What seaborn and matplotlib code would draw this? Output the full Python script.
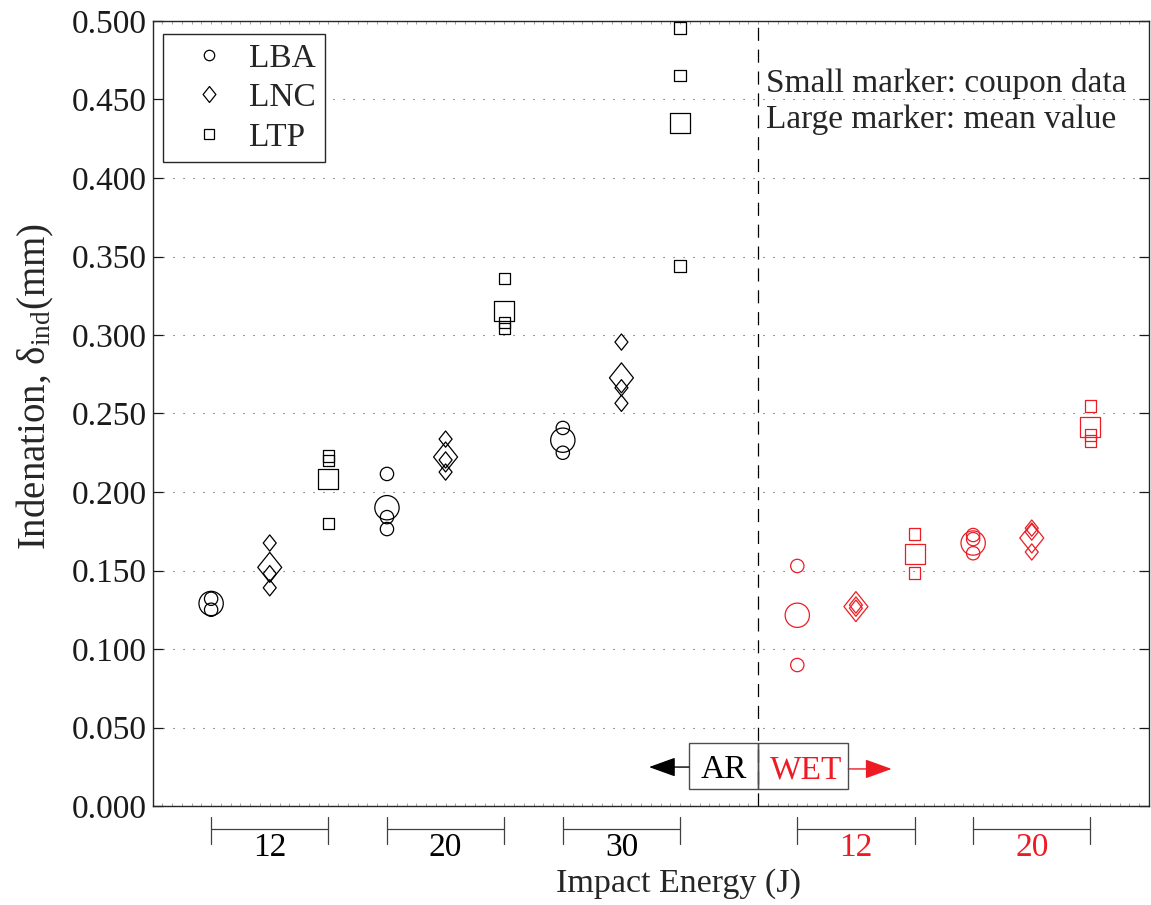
import numpy as np
import pandas as pd
import matplotlib
matplotlib.use("Agg")
import matplotlib.pyplot as plt
from matplotlib.path import Path
from matplotlib.lines import Line2D
from matplotlib.patches import Rectangle
from matplotlib.ticker import MultipleLocator
import seaborn as sns

# ---------------- data ----------------
materials = ["LBA", "LNC", "LTP"]
group_labels = ["12", "20", "30", "12", "20"]
group_conditions = ["AR", "AR", "AR", "WET", "WET"]
group_base = [1, 4, 7, 11, 14]          # x slot of first material in each group

# coupon data (small markers), one list per group
coupons_LBA = [[0.132, 0.125], [0.2115, 0.184, 0.1764], [0.2408, 0.225],
               [0.1529, 0.0898], [0.1726, 0.170, 0.161]]
coupons_LNC = [[0.1675, 0.148, 0.139], [0.2337, 0.2204, 0.2127], [0.2955, 0.2664, 0.2565],
               [0.128, 0.126], [0.177, 0.1745, 0.1618]]
coupons_LTP = [[0.223, 0.220, 0.180], [0.336, 0.308, 0.304], [0.4955, 0.4654, 0.344],
               [0.1732, 0.1484], [0.2548, 0.2363, 0.2325]]
# mean values (large markers)
mean_LBA = [0.129, 0.190, 0.233, 0.1215, 0.1675]
mean_LNC = [0.152, 0.2223, 0.2727, 0.127, 0.1707]
mean_LTP = [0.208, 0.315, 0.435, 0.1605, 0.2414]

yticks = [0.000, 0.050, 0.100, 0.150, 0.200, 0.250, 0.300, 0.350, 0.400, 0.450, 0.500]

# ---------------- build long table ----------------
coupons = {"LBA": coupons_LBA, "LNC": coupons_LNC, "LTP": coupons_LTP}
means = {"LBA": mean_LBA, "LNC": mean_LNC, "LTP": mean_LTP}
rows = []
for mi, m in enumerate(materials):
    for gi in range(len(group_base)):
        x = group_base[gi] + mi
        for v in coupons[m][gi]:
            rows.append(dict(x=x, y=v, material=m, cond=group_conditions[gi], kind="coupon"))
        rows.append(dict(x=x, y=means[m][gi], material=m, cond=group_conditions[gi], kind="mean"))
df = pd.DataFrame(rows)

# ---------------- style ----------------
sns.set_theme(style="white")
plt.rcParams["font.family"] = ["Liberation Serif", "DejaVu Serif"]
plt.rcParams["mathtext.fontset"] = "custom"
plt.rcParams["mathtext.rm"] = "Liberation Serif"
plt.rcParams["mathtext.it"] = "Liberation Serif:italic"
FS = 24
RED = "#ED1C24"
cond_color = {"AR": "black", "WET": RED}

def diamond():
    v = [(0, 1), (0.8, 0), (0, -1), (-0.8, 0), (0, 1)]
    return Path(v, closed=True)

marker_of = {"LBA": "o", "LNC": diamond(), "LTP": "s"}
ms_small = {"LBA": 9.6, "LNC": 11.7, "LTP": 8.2}
ms_large = {"LBA": 17.5, "LNC": 21.6, "LTP": 14.4}

fig = plt.figure(figsize=(11.51, 9.05), dpi=100)
ax = fig.add_axes([152.5 / 1151, 99 / 905, 996.5 / 1151, 785 / 905])

for (m, c, k), sub in df.groupby(["material", "cond", "kind"]):
    ms = ms_small[m] if k == "coupon" else ms_large[m]
    sns.scatterplot(data=sub, x="x", y="y", ax=ax, marker=marker_of[m], s=ms ** 2,
                    facecolors="none", edgecolor=cond_color[c], linewidth=0.9,
                    legend=False, zorder=3)

ax.set_xlim(0, 17)
ax.set_ylim(0, 0.5)
ax.set_yticks(yticks)
ax.set_yticklabels([f"{t:.3f}" for t in yticks], fontsize=FS)
ax.set_xticks([])
ax.xaxis.set_minor_locator(MultipleLocator(1 / 6))
ax.tick_params(axis="y", which="major", direction="in", length=7, width=0.9,
               left=True, right=True, pad=4, colors="0.1")
ax.tick_params(axis="x", which="minor", direction="in", length=2, width=0.5,
               bottom=True, top=True, color="0.5")
ax.yaxis.grid(True, linestyle=(0, (1, 8)), color="0.3", linewidth=0.8)
ax.xaxis.grid(False)
for sp in ax.spines.values():
    sp.set_color("0.15")
    sp.set_linewidth(1.0)

ax.set_xlabel("Impact Energy (J)", fontsize=24.5)
ax.xaxis.set_label_coords(0.528, -0.1096)
ax.xaxis.label.set_va("baseline")
ax.set_ylabel("Indenation, δ$_{\\mathrm{ind}}$(mm)", fontsize=28)
ax.yaxis.set_label_coords(-0.1078, 0.534)
ax.yaxis.label.set_va("baseline")

# dividing dashed line
ax.axvline(10.33, color="black", linestyle=(0, (10.5, 7)), linewidth=0.9, zorder=2)

# energy brackets below the axis
xt = ax.get_xaxis_transform()
for gi in range(len(group_base)):
    x0, x1 = group_base[gi], group_base[gi] + 2
    ax.plot([x0, x1], [-0.0293, -0.0293], color="0.25", lw=0.9, transform=xt, clip_on=False)
    ax.plot([x0, x0], [-0.014, -0.0484], color="0.25", lw=0.9, transform=xt, clip_on=False)
    ax.plot([x1, x1], [-0.014, -0.0484], color="0.25", lw=0.9, transform=xt, clip_on=False)
    ax.text((x0 + x1) / 2, -0.0637, group_labels[gi], transform=xt, ha="center",
            va="baseline", fontsize=FS, color=cond_color[group_conditions[gi]])

# AR / WET box
ax.add_patch(Rectangle((9.15, 0.0108), 10.33 - 9.15, 0.0293, fill=True, facecolor="white",
                       edgecolor="0.3", lw=1.0, zorder=1))
ax.add_patch(Rectangle((10.33, 0.0108), 11.87 - 10.33, 0.0293, fill=False,
                       edgecolor="0.3", lw=1.0, zorder=4))
ax.text(9.75, 0.0178, "AR", ha="center", va="baseline", fontsize=FS, color="black", zorder=5)
ax.text(11.15, 0.0178, "WET", ha="center", va="baseline", fontsize=FS, color=RED, zorder=5)
ax.annotate("", xy=(8.47, 0.0248), xytext=(9.15, 0.0248),
            arrowprops=dict(arrowstyle="-|>,head_length=0.83,head_width=0.3", color="black",
                            lw=1.0, shrinkA=0, shrinkB=0, mutation_scale=20))
ax.annotate("", xy=(12.61, 0.0236), xytext=(11.87, 0.0236),
            arrowprops=dict(arrowstyle="-|>,head_length=0.83,head_width=0.3", color=RED,
                            lw=1.0, shrinkA=0, shrinkB=0, mutation_scale=20))

# annotation text
ax.text(10.47, 0.4548, "Small marker: coupon data", fontsize=FS, va="baseline", ha="left")
ax.text(10.47, 0.4318, "Large marker: mean value", fontsize=FS, va="baseline", ha="left")

# legend
handles = [
    Line2D([], [], ls="none", marker="o", ms=7.5, mfc="none", mec="black", mew=0.9),
    Line2D([], [], ls="none", marker=diamond(), ms=11.5, mfc="none", mec="black", mew=0.9),
    Line2D([], [], ls="none", marker="s", ms=7.0, mfc="none", mec="black", mew=0.9),
]
leg = ax.legend(handles, materials, loc="upper left", bbox_to_anchor=(0.0105, 0.9834),
                fontsize=FS, frameon=True, fancybox=False, framealpha=1, edgecolor="0.15",
                borderpad=0.27, handlelength=2.2, handletextpad=0.12, labelspacing=0.27,
                borderaxespad=0)
leg.get_frame().set_linewidth(1.0)

fig.savefig("out.png", dpi=100)
